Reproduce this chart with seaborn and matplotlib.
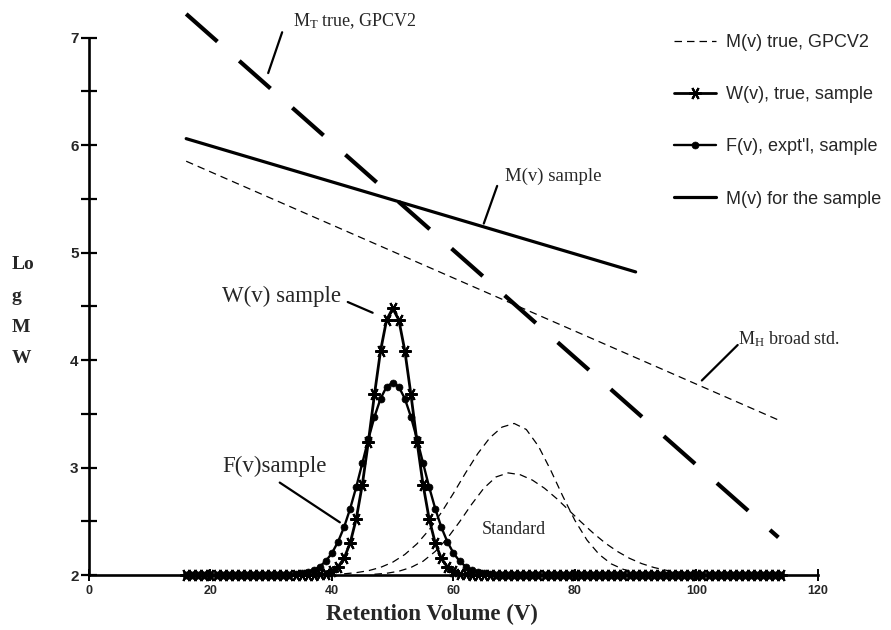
import matplotlib
matplotlib.use("Agg")
import matplotlib.pyplot as plt
import seaborn as sns
import pandas as pd

# Retention volumes sampled for the sample chromatograms
VOLUME = list(range(16, 115))

# W(v): true sample chromatogram (log MW axis offset, baseline at 2)
W_SAMPLE = [
    2.0, 2.0, 2.0, 2.0, 2.0, 2.0, 2.0, 2.0, 2.0, 2.0,
    2.0, 2.0, 2.0, 2.0, 2.0, 2.0, 2.0, 2.0, 2.0, 2.0,
    2.0, 2.0, 2.005, 2.013, 2.033, 2.075, 2.156, 2.298, 2.523, 2.841,
    3.242, 3.680, 4.086, 4.375, 4.480, 4.375, 4.086, 3.680, 3.242, 2.841,
    2.523, 2.298, 2.156, 2.075, 2.033, 2.013, 2.005, 2.0, 2.0, 2.0,
    2.0, 2.0, 2.0, 2.0, 2.0, 2.0, 2.0, 2.0, 2.0, 2.0,
    2.0, 2.0, 2.0, 2.0, 2.0, 2.0, 2.0, 2.0, 2.0, 2.0,
    2.0, 2.0, 2.0, 2.0, 2.0, 2.0, 2.0, 2.0, 2.0, 2.0,
    2.0, 2.0, 2.0, 2.0, 2.0, 2.0, 2.0, 2.0, 2.0, 2.0,
    2.0, 2.0, 2.0, 2.0, 2.0, 2.0, 2.0, 2.0, 2.0,
]

# F(v): experimental (broadened) sample chromatogram
F_SAMPLE = [
    2.0, 2.0, 2.0, 2.0, 2.0, 2.0, 2.0, 2.0, 2.0, 2.0,
    2.0, 2.0, 2.0, 2.0, 2.0, 2.0, 2.0, 2.003, 2.007, 2.014,
    2.025, 2.046, 2.079, 2.130, 2.204, 2.309, 2.446, 2.618, 2.819, 3.041,
    3.265, 3.472, 3.641, 3.752, 3.790, 3.752, 3.641, 3.472, 3.265, 3.041,
    2.819, 2.618, 2.446, 2.309, 2.204, 2.130, 2.079, 2.046, 2.025, 2.014,
    2.007, 2.003, 2.0, 2.0, 2.0, 2.0, 2.0, 2.0, 2.0, 2.0,
    2.0, 2.0, 2.0, 2.0, 2.0, 2.0, 2.0, 2.0, 2.0, 2.0,
    2.0, 2.0, 2.0, 2.0, 2.0, 2.0, 2.0, 2.0, 2.0, 2.0,
    2.0, 2.0, 2.0, 2.0, 2.0, 2.0, 2.0, 2.0, 2.0, 2.0,
    2.0, 2.0, 2.0, 2.0, 2.0, 2.0, 2.0, 2.0, 2.0,
]

# Calibration lines (end points)
TRUE_V = [16, 113.5]
M_TRUE = [7.22, 2.35]          # M_T true, GPCV2
BROAD_V = [16, 114]
M_BROAD = [5.85, 3.43]         # M_H broad std.
SAMPLE_V = [16, 90]
M_SAMPLE = [6.06, 4.82]        # M(v) for the sample

# Broad standard chromatograms
STD_A_V = [42, 44, 46, 48, 50, 52, 54, 56, 58, 60, 62, 64, 66, 68, 70,
           72, 74, 76, 78, 80, 82, 84, 86, 88, 90, 92]
STD_A = [2.011, 2.022, 2.040, 2.071, 2.119, 2.191, 2.290, 2.420, 2.580,
         2.760, 2.950, 3.129, 3.277, 3.376, 3.410, 3.354, 3.198, 2.977,
         2.734, 2.508, 2.324, 2.191, 2.103, 2.052, 2.024, 2.010]
STD_B_V = [47, 49, 51, 53, 55, 57, 59, 61, 63, 65, 67, 69, 71, 73, 75, 77,
           79, 81, 83, 85, 87, 89, 91, 93, 95, 97, 99, 101]
STD_B = [2.007, 2.016, 2.035, 2.070, 2.128, 2.219, 2.342, 2.494, 2.658,
         2.807, 2.912, 2.950, 2.933, 2.883, 2.807, 2.711, 2.603, 2.494,
         2.391, 2.297, 2.219, 2.155, 2.106, 2.070, 2.044, 2.027, 2.016, 2.009]

X_TICKS = [0, 20, 40, 60, 80, 100, 120]
Y_TICKS = [2, 3, 4, 5, 6, 7]

sns.set_theme(style="ticks")
plt.rcParams["font.family"] = ["Liberation Sans", "DejaVu Sans"]
plt.rcParams["mathtext.fontset"] = "custom"
plt.rcParams["mathtext.rm"] = "Liberation Serif"
plt.rcParams["mathtext.it"] = "Liberation Serif:italic"
plt.rcParams["mathtext.bf"] = "Liberation Serif:bold"

fig = plt.figure(figsize=(8.91, 6.30), dpi=100)
ax = fig.add_axes([0.0999, 0.0873, 0.818, 0.9127])

thin_dash = (0, (6, 4))
heavy_dash = (0, (10, 7))

samples = pd.DataFrame({"V": VOLUME, "W": W_SAMPLE, "F": F_SAMPLE})

# Calibration lines
sns.lineplot(x=TRUE_V, y=M_TRUE, ax=ax, color="black", lw=3.0,
             linestyle=heavy_dash, zorder=3)
broad_line = sns.lineplot(x=BROAD_V, y=M_BROAD, ax=ax, color="black", lw=0.9,
                          linestyle=thin_dash, zorder=3).lines[-1]
sample_line = sns.lineplot(x=SAMPLE_V, y=M_SAMPLE, ax=ax, color="black",
                           lw=2.3, zorder=3).lines[-1]

# Standard chromatograms
sns.lineplot(x=STD_A_V, y=STD_A, ax=ax, color="black", lw=0.9,
             linestyle=thin_dash, zorder=3)
sns.lineplot(x=STD_B_V, y=STD_B, ax=ax, color="black", lw=0.9,
             linestyle=thin_dash, zorder=3)

# Sample chromatograms
f_line = sns.lineplot(data=samples, x="V", y="F", ax=ax, color="black", lw=1.7,
                      marker="o", markersize=5, markeredgecolor="black",
                      markeredgewidth=0.5, clip_on=False, zorder=4).lines[-1]
w_line = sns.lineplot(data=samples, x="V", y="W", ax=ax, color="black", lw=2.0,
                      marker=(6, 2, 90), markersize=9,
                      markeredgecolor="black", markeredgewidth=1.5,
                      clip_on=False, zorder=5).lines[-1]

# Axes styling
ax.set_xlim(0, 120)
ax.set_ylim(2, 7.35)
ax.spines["left"].set_bounds(2, 7)
for side in ("top", "right"):
    ax.spines[side].set_visible(False)
for side in ("left", "bottom"):
    ax.spines[side].set_linewidth(1.9)
    ax.spines[side].set_color("black")
ax.set_xticks(X_TICKS)
ax.set_yticks(Y_TICKS)
ax.set_yticks([2.5, 3.5, 4.5, 5.5, 6.5], minor=True)
ax.tick_params(axis="y", which="both", direction="inout", length=11,
               width=1.6, color="black", pad=2)
ax.tick_params(axis="x", which="major", direction="inout", length=9,
               width=1.4, color="black", pad=3)
for lab in ax.get_yticklabels():
    lab.set_fontweight("bold")
    lab.set_fontsize(11)
for lab in ax.get_xticklabels():
    lab.set_fontweight("bold")
    lab.set_fontsize(9)
ax.set_xlabel("")
ax.set_ylabel("")

serif = ["Liberation Serif", "DejaVu Serif"]

fig.text(0.485, 0.024, "Retention Volume (V)", family=serif, fontsize=16.5,
         fontweight="bold", ha="center", va="center")
fig.text(0.013, 0.505, "Lo\ng\nM\nW", family=serif, fontsize=14,
         fontweight="bold", ha="left", va="center", linespacing=2.1)

# Annotations with pointer lines
notes = [
    (r"M$_\mathrm{T}$ true, GPCV2", (33.6, 7.15), (31.8, 7.05), (29.5, 6.67), 13),
    ("M(v) sample", (68.5, 5.71), (67.2, 5.62), (65.0, 5.27), 13.5),
    (r"M$_\mathrm{H}$ broad std.", (106.8, 4.19), (106.8, 4.14), (100.9, 3.81), 13),
    ("W(v) sample", (21.9, 4.59), (42.6, 4.54), (46.7, 4.44), 16.5),
    ("F(v)sample", (21.9, 3.01), (31.4, 2.86), (41.3, 2.49), 16.5),
]
for text, pos, p0, p1, size in notes:
    ax.text(pos[0], pos[1], text, family=serif, fontsize=size,
            ha="left", va="center", clip_on=False)
    ax.plot([p0[0], p1[0]], [p0[1], p1[1]], color="black", lw=1.6,
            clip_on=False, zorder=3)
ax.text(64.7, 2.42, "Standard", family=serif, fontsize=13, ha="left",
        va="center")

fig.legend([broad_line, w_line, f_line, sample_line],
           ["M(v) true, GPCV2", "W(v), true, sample", "F(v), expt'l, sample",
            "M(v) for the sample"],
           loc="upper left", bbox_to_anchor=(0.757, 0.946), frameon=False,
           fontsize=13, borderpad=0, borderaxespad=0, labelspacing=1.95,
           handlelength=2.3, handletextpad=0.55, numpoints=1)

fig.savefig("out.png", dpi=100)
